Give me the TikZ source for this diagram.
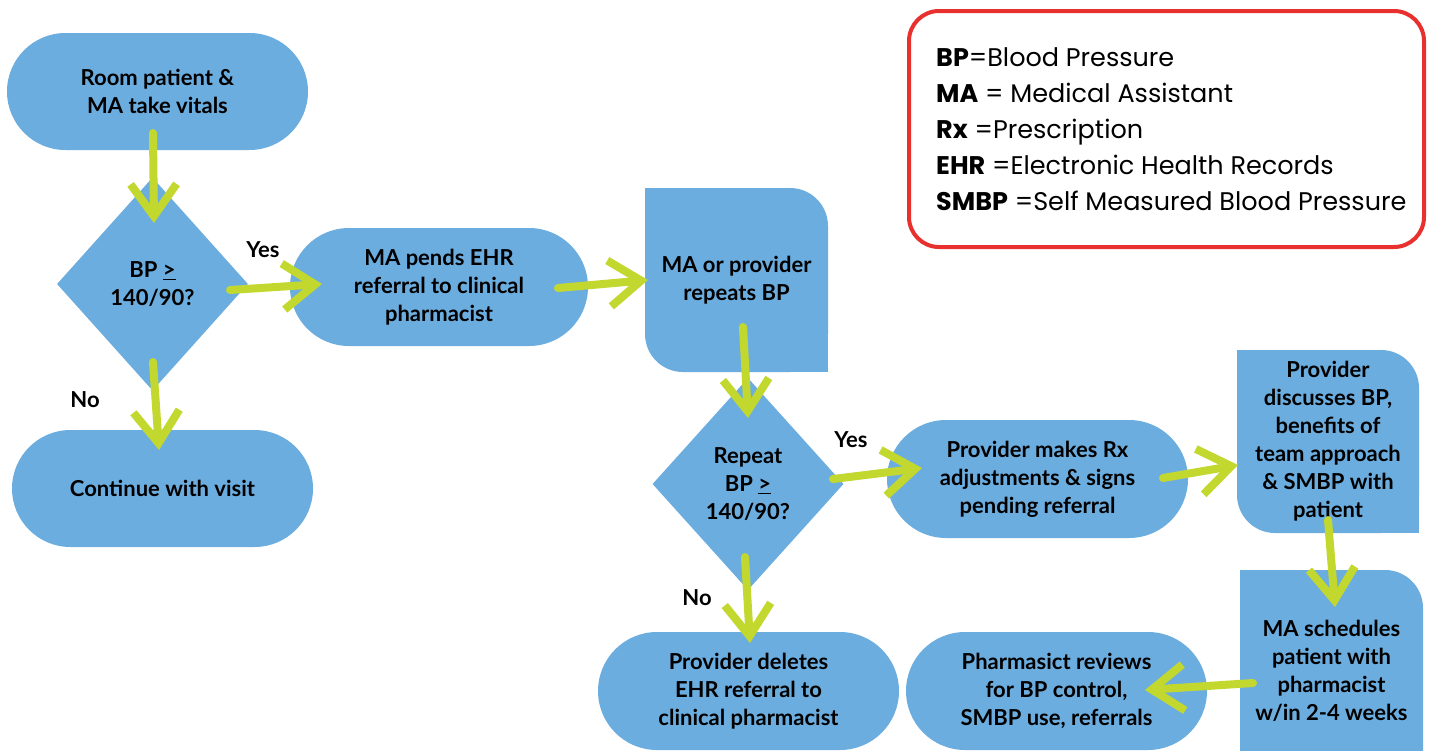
\documentclass[tikz,border=0pt]{standalone}
\usepackage{fontspec}
\setmainfont{Lato}
\newfontfamily\legfont{Poppins}
\usetikzlibrary{shapes.geometric,shapes.misc,arrows.meta,backgrounds}
\definecolor{boxblue}{HTML}{6CADDF}
\definecolor{arrgreen}{HTML}{C3D82E}
\definecolor{legred}{HTML}{E8302F}
\newcommand{\nodefnt}{\fontsize{22}{28}\selectfont\bfseries}
\begin{document}
\begin{tikzpicture}[x=1pt,y=-1pt,
  stadium/.style={rounded rectangle, fill=boxblue, minimum width=301pt, minimum height=117pt, inner sep=0pt, align=center, font=\nodefnt},
  decision/.style={diamond, fill=boxblue, minimum width=191pt, minimum height=213pt, inner sep=0pt, align=center, font=\nodefnt},
  txt/.style={align=center, font=\nodefnt, inner sep=0pt},
  flow/.style={-{Straight Barb[length=32pt,width=46pt]}, line width=8pt, draw=arrgreen, line cap=round, line join=round},
  lbl/.style={font=\nodefnt, inner sep=0pt}]
\useasboundingbox (0,0) rectangle (1434,750);
\begin{scope}[on background layer]
  \fill[white] (0,0) rectangle (1434,750);
  % boxes with two rounded corners
  \fill[boxblue, rounded corners=38pt] (645,188) rectangle (828,372);
  \fill[boxblue] (645,188) rectangle (690,233);
  \fill[boxblue] (828,372) rectangle (783,327);
  \fill[boxblue, rounded corners=38pt] (1237,350) rectangle (1419,533);
  \fill[boxblue] (1237,350) rectangle (1282,395);
  \fill[boxblue] (1419,533) rectangle (1374,488);
  \fill[boxblue, rounded corners=38pt] (1240,570) rectangle (1423,800);
  \fill[boxblue] (1240,570) rectangle (1285,615);
\end{scope}

% nodes
\node[stadium] (room) at (157.5,91.5) {Room patient \&\\MA take vitals};
\node[decision] (dia1) at (152.5,284) {BP \underline{>}\\140/90?};
\node[stadium] (cont) at (162.5,488.5) {Continue with visit};
\node[stadium, minimum width=298pt, minimum height=118pt] (pend) at (439,287) {MA pends EHR\\referral to clinical\\pharmacist};
\node[txt, minimum width=183pt, minimum height=184pt] (rep) at (736.5,280) {MA or provider\\repeats BP};
\node[decision, minimum height=212pt] (dia2) at (748,484) {Repeat\\BP \underline{>}\\140/90?};
\node[stadium, minimum height=118pt] (rx) at (1037.5,479) {Provider makes Rx\\adjustments \& signs\\pending referral};
\node[txt, minimum width=182pt, minimum height=183pt] (disc) at (1328,441.5) {Provider\\discusses BP,\\benefits of\\team approach\\\& SMBP with\\patient};
\node[txt, minimum width=183pt] (sched) at (1331.5,671) {MA schedules\\patient with\\pharmacist\\w/in 2-4 weeks};
\node[stadium, minimum height=118pt] (pharm) at (1056.5,691) {Pharmasict reviews\\for BP control,\\SMBP use, referrals};
\node[stadium, minimum height=118pt] (del) at (748.5,691) {Provider deletes\\EHR referral to\\clinical pharmacist};

% labels
\node[lbl] (yes1) at (263,250) {Yes};
\node[lbl] (no1) at (85,400) {No};
\node[lbl] (yes2) at (851,440) {Yes};
\node[lbl] (no2) at (697,598) {No};

% legend
\node[draw=legred, line width=4pt, rounded corners=30pt, minimum width=515pt, minimum height=236pt, inner sep=0pt] (legbox) at (1166.5,129) {};
\node[anchor=west, align=left, inner sep=0pt, font=\legfont\fontsize{25.5}{36}\selectfont] (legtext) at (936,129)
  {\textbf{BP}=Blood Pressure\\
   \textbf{MA} = Medical Assistant\\
   \textbf{Rx} =Prescription\\
   \textbf{EHR} =Electronic Health Records\\
   \textbf{SMBP} =Self Measured Blood Pressure};

% connector endpoints
\coordinate (a1s) at (153,133);  \coordinate (a1e) at (154,223);
\coordinate (a2s) at (230,290);  \coordinate (a2e) at (322,284);
\coordinate (a3s) at (558,288);  \coordinate (a3e) at (648,280);
\coordinate (a4s) at (743,327);  \coordinate (a4e) at (748,418);
\coordinate (a5s) at (833,479);  \coordinate (a5e) at (922,468);
\coordinate (a6s) at (745,557);  \coordinate (a6e) at (750,643);
\coordinate (a7s) at (1163,478); \coordinate (a7e) at (1238,465);
\coordinate (a8s) at (1328,520); \coordinate (a8e) at (1335,607);
\coordinate (a9s) at (1253,683); \coordinate (a9e) at (1145,690);
\coordinate (a10s) at (153,362); \coordinate (a10e) at (159,450);

\draw[flow] (a1s) -- (a1e);
\draw[flow] (a2s) -- (a2e);
\draw[flow] (a3s) -- (a3e);
\draw[flow] (a4s) -- (a4e);
\draw[flow] (a5s) -- (a5e);
\draw[flow] (a6s) -- (a6e);
\draw[flow] (a7s) -- (a7e);
\draw[flow] (a8s) -- (a8e);
\draw[flow] (a9s) -- (a9e);
\draw[flow] (a10s) -- (a10e);
\end{tikzpicture}
\end{document}
